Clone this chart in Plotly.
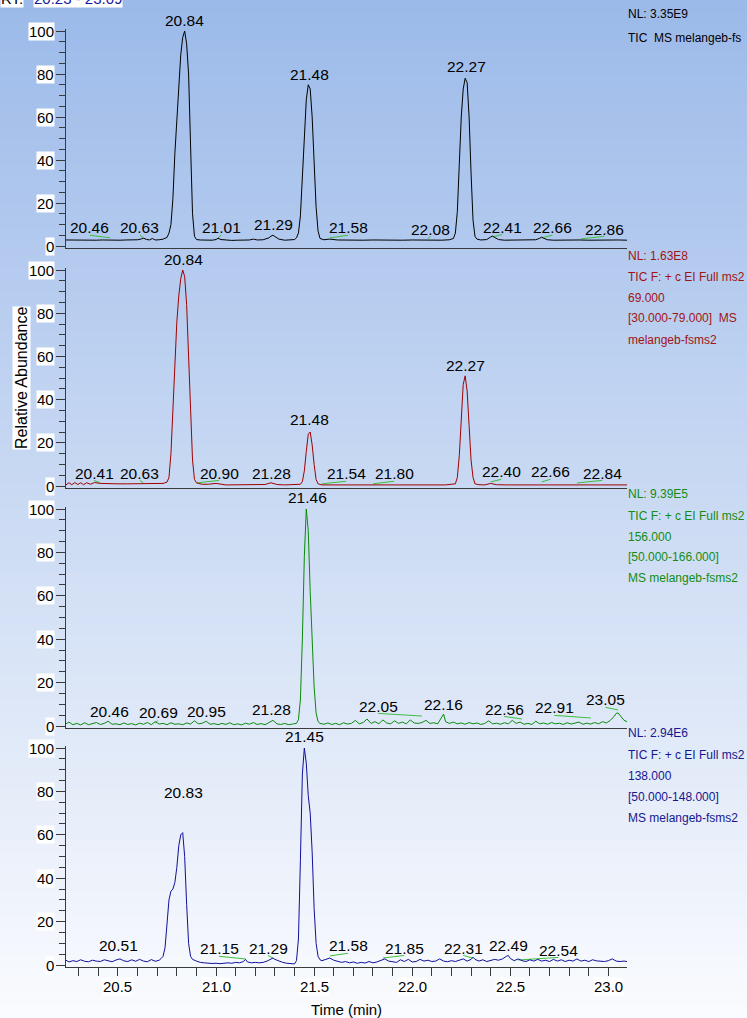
import plotly.graph_objects as go

W, H = 747, 1018
FONT = "Liberation Sans, Arial, Helvetica, sans-serif"

# ---------------- data ----------------
tic_time = [20.235, 20.27, 20.30, 20.33, 20.36, 20.39, 20.42, 20.45, 20.48, 20.51,
            20.54, 20.57, 20.60, 20.62, 20.63, 20.645, 20.66, 20.675, 20.69, 20.71,
            20.73, 20.75, 20.76, 20.77, 20.78, 20.79, 20.80, 20.81, 20.82, 20.83,
            20.84, 20.85, 20.86, 20.87, 20.88, 20.89, 20.90, 20.92, 20.95, 20.98,
            21.00, 21.01, 21.025, 21.05, 21.08, 21.11, 21.14, 21.17, 21.19, 21.21,
            21.24, 21.27, 21.28, 21.29, 21.30, 21.32, 21.35, 21.38, 21.40, 21.41,
            21.42, 21.43, 21.44, 21.45, 21.46, 21.47, 21.48, 21.49, 21.50, 21.51,
            21.52, 21.53, 21.55, 21.58, 21.62, 21.66, 21.70, 21.75, 21.80, 21.85,
            21.90, 21.95, 22.00, 22.05, 22.10, 22.15, 22.19, 22.21, 22.22, 22.23,
            22.24, 22.25, 22.26, 22.27, 22.28, 22.29, 22.30, 22.31, 22.32, 22.33,
            22.35, 22.38, 22.40, 22.41, 22.42, 22.44, 22.47, 22.51, 22.55, 22.59,
            22.63, 22.65, 22.66, 22.67, 22.69, 22.72, 22.76, 22.80, 22.85, 22.90,
            22.95, 23.00, 23.05, 23.095]
tic_abund = [2.8, 2.7, 2.8, 2.6, 2.8, 2.7, 2.8, 2.7, 2.8, 2.7,
             2.8, 2.7, 2.9, 3.3, 3.6, 3.1, 2.8, 3.5, 2.8, 2.9,
             3.2, 4.0, 6.0, 10.0, 22.0, 43.0, 60.0, 77.0, 89.0, 97.0,
             100.0, 94.0, 80.0, 47.0, 15.0, 4.5, 3.0, 2.8, 2.6, 2.7,
             3.0, 3.6, 3.0, 2.7, 2.6, 2.7, 2.6, 2.8, 3.2, 2.8,
             2.9, 3.8, 4.6, 5.0, 4.4, 3.2, 2.7, 2.8, 3.0, 3.8,
             6.0, 14.0, 32.0, 52.0, 68.0, 75.0, 73.0, 60.0, 38.0, 18.0,
             7.0, 3.5, 2.9, 3.2, 2.8, 2.7, 2.8, 2.7, 2.8, 2.7,
             2.8, 2.7, 2.8, 2.7, 2.8, 2.7, 2.9, 3.5, 6.0, 16.0,
             38.0, 60.0, 73.0, 78.0, 76.0, 60.0, 34.0, 12.0, 4.5, 3.2,
             2.8, 3.0, 4.2, 4.6, 4.0, 3.0, 2.7, 2.8, 2.7, 2.8,
             2.9, 3.6, 4.1, 3.6, 2.9, 2.7, 2.8, 2.7, 2.8, 2.7,
             2.8, 2.7, 2.8, 2.7]

m69_time = [20.235, 20.25, 20.265, 20.28, 20.295, 20.31, 20.325, 20.34, 20.36, 20.38,
            20.41, 20.45, 20.50, 20.55, 20.60, 20.63, 20.66, 20.70, 20.73, 20.75,
            20.76, 20.77, 20.78, 20.79, 20.80, 20.81, 20.82, 20.83, 20.84, 20.85,
            20.86, 20.87, 20.88, 20.89, 20.90, 20.91, 20.93, 20.96, 21.00, 21.05,
            21.10, 21.15, 21.20, 21.25, 21.28, 21.31, 21.35, 21.40, 21.43, 21.44,
            21.45, 21.46, 21.47, 21.48, 21.49, 21.50, 21.51, 21.52, 21.54, 21.58,
            21.65, 21.72, 21.80, 21.88, 21.95, 22.02, 22.10, 22.17, 22.22, 22.23,
            22.24, 22.25, 22.26, 22.27, 22.28, 22.29, 22.30, 22.31, 22.32, 22.34,
            22.37, 22.40, 22.43, 22.48, 22.55, 22.62, 22.66, 22.70, 22.78, 22.84,
            22.92, 23.00, 23.05, 23.095]
m69_abund = [0.5, 1.5, 0.6, 1.6, 0.7, 1.5, 0.6, 1.5, 0.8, 1.6,
             1.2, 1.0, 1.0, 1.0, 1.0, 1.1, 1.0, 1.0, 1.2, 1.8,
             4.0, 15.0, 38.0, 60.0, 76.0, 88.0, 96.0, 100.0, 97.0, 84.0,
             62.0, 35.0, 12.0, 3.0, 1.5, 1.2, 0.8, 0.8, 1.2, 0.5,
             0.5, 0.5, 0.5, 0.7, 1.5, 0.7, 0.5, 0.5, 0.8, 2.0,
             7.0, 16.0, 24.0, 25.0, 19.0, 10.0, 3.0, 1.0, 0.5, 0.5,
             0.5, 0.5, 0.5, 0.5, 0.5, 0.5, 0.5, 0.5, 1.0, 4.0,
             14.0, 32.0, 47.0, 51.0, 44.0, 28.0, 12.0, 4.0, 1.0, 0.6,
             0.5, 1.2, 0.6, 0.5, 0.5, 0.5, 0.8, 0.5, 0.5, 0.6,
             0.5, 0.5, 0.5, 0.5]

m156_time = [20.235, 20.25, 20.27, 20.29, 20.31, 20.33, 20.35, 20.37, 20.39, 20.41,
             20.43, 20.45, 20.47, 20.49, 20.51, 20.53, 20.55, 20.57, 20.59, 20.61,
             20.63, 20.65, 20.67, 20.69, 20.71, 20.73, 20.75, 20.77, 20.79, 20.81,
             20.83, 20.85, 20.87, 20.89, 20.91, 20.93, 20.95, 20.97, 20.99, 21.01,
             21.03, 21.05, 21.07, 21.09, 21.11, 21.13, 21.15, 21.17, 21.19, 21.21,
             21.23, 21.25, 21.27, 21.29, 21.31, 21.33, 21.35, 21.37, 21.39, 21.41,
             21.42, 21.43, 21.44, 21.45, 21.46, 21.47, 21.48, 21.49, 21.50, 21.51,
             21.52, 21.53, 21.55, 21.57, 21.59, 21.61, 21.63, 21.65, 21.67, 21.69,
             21.71, 21.73, 21.75, 21.77, 21.79, 21.81, 21.83, 21.85, 21.87, 21.89,
             21.91, 21.93, 21.95, 21.97, 21.99, 22.01, 22.03, 22.05, 22.07, 22.09,
             22.11, 22.13, 22.15, 22.16, 22.17, 22.19, 22.21, 22.23, 22.25, 22.27,
             22.29, 22.31, 22.33, 22.35, 22.37, 22.39, 22.41, 22.43, 22.45, 22.47,
             22.49, 22.51, 22.53, 22.55, 22.57, 22.59, 22.61, 22.63, 22.65, 22.67,
             22.69, 22.71, 22.73, 22.75, 22.77, 22.79, 22.81, 22.83, 22.85, 22.87,
             22.89, 22.91, 22.93, 22.95, 22.97, 22.99, 23.01, 23.03, 23.04, 23.05,
             23.06, 23.07, 23.08, 23.095]
m156_abund = [1.0, 1.8, 0.6, 1.2, 0.5, 1.5, 0.6, 1.0, 1.6, 0.7,
              1.2, 2.2, 0.8, 1.0, 0.6, 1.4, 0.7, 1.1, 0.5, 1.3,
              0.8, 1.6, 0.6, 2.0, 0.9, 1.2, 0.6, 1.5, 0.8, 1.0,
              0.6, 1.4, 0.9, 2.4, 1.0, 1.3, 2.2, 0.8, 1.1, 0.6,
              1.2, 0.7, 1.5, 0.6, 1.0, 0.5, 1.3, 0.8, 1.6, 0.7,
              1.1, 0.6, 1.8, 2.6, 1.0, 0.7, 1.2, 0.6, 0.9, 1.2,
              3.0, 12.0, 40.0, 78.0, 100.0, 90.0, 62.0, 38.0, 18.0, 6.0,
              2.0, 1.2, 0.8, 1.4, 0.7, 1.2, 0.6, 1.5, 0.9, 1.2,
              2.6, 1.0, 1.6, 3.2, 1.2, 2.0, 1.0, 2.8, 1.4, 1.0,
              2.4, 1.2, 1.8, 1.0, 2.8, 1.4, 1.2, 1.6, 2.6, 1.2,
              1.5, 1.0, 3.8, 5.5, 2.0, 1.2, 1.8, 1.0, 1.4, 0.8,
              1.6, 1.0, 1.4, 0.7, 1.2, 2.4, 1.0, 1.3, 0.8, 1.5,
              1.0, 2.6, 1.2, 1.8, 0.8, 1.2, 0.7, 2.2, 1.0, 1.4,
              0.8, 1.6, 1.0, 1.3, 0.7, 1.5, 0.9, 1.2, 1.8, 0.8,
              1.3, 0.9, 1.6, 1.0, 2.0, 1.4, 2.6, 4.5, 5.8, 6.0,
              4.8, 3.5, 2.6, 2.0]

m138_time = [20.235, 20.25, 20.27, 20.29, 20.31, 20.33, 20.35, 20.37, 20.39, 20.41,
             20.43, 20.45, 20.47, 20.49, 20.51, 20.53, 20.55, 20.57, 20.59, 20.61,
             20.63, 20.65, 20.67, 20.69, 20.71, 20.72, 20.73, 20.74, 20.75, 20.76,
             20.77, 20.78, 20.79, 20.80, 20.81, 20.82, 20.83, 20.84, 20.85, 20.86,
             20.87, 20.88, 20.90, 20.92, 20.94, 20.96, 20.98, 21.00, 21.02, 21.04,
             21.06, 21.08, 21.10, 21.12, 21.14, 21.15, 21.16, 21.18, 21.20, 21.22,
             21.24, 21.26, 21.28, 21.29, 21.30, 21.32, 21.34, 21.36, 21.38, 21.40,
             21.41, 21.42, 21.43, 21.44, 21.45, 21.46, 21.47, 21.48, 21.49, 21.50,
             21.51, 21.52, 21.53, 21.54, 21.56, 21.58, 21.60, 21.62, 21.64, 21.66,
             21.68, 21.70, 21.72, 21.74, 21.76, 21.78, 21.80, 21.82, 21.84, 21.86,
             21.88, 21.90, 21.92, 21.94, 21.96, 21.98, 22.00, 22.02, 22.04, 22.06,
             22.08, 22.10, 22.12, 22.14, 22.16, 22.18, 22.20, 22.22, 22.24, 22.26,
             22.28, 22.30, 22.31, 22.32, 22.34, 22.36, 22.38, 22.40, 22.42, 22.44,
             22.46, 22.48, 22.49, 22.50, 22.52, 22.54, 22.56, 22.58, 22.60, 22.62,
             22.64, 22.66, 22.68, 22.70, 22.72, 22.74, 22.76, 22.78, 22.80, 22.82,
             22.84, 22.86, 22.88, 22.90, 22.92, 22.94, 22.96, 22.98, 23.00, 23.02,
             23.04, 23.06, 23.08, 23.095]
m138_abund = [2.2, 1.4, 2.0, 1.6, 2.4, 1.7, 1.5, 2.2, 1.8, 1.6,
              2.4, 1.8, 1.5, 2.3, 2.8, 1.9, 1.6, 2.4, 1.7, 2.6,
              1.8, 1.5, 2.5, 1.7, 2.2, 3.0, 4.0, 8.0, 18.0, 30.0,
              34.0, 35.0, 38.0, 45.0, 55.0, 60.0, 61.0, 50.0, 28.0, 10.0,
              4.0, 2.6, 1.8, 1.2, 1.0, 0.8, 0.7, 0.8, 0.6, 0.8,
              1.0, 0.8, 1.2, 1.0, 1.6, 2.6, 1.4, 1.0, 1.2, 1.0,
              1.2, 1.8, 3.0, 3.2, 2.6, 1.8, 1.2, 0.8, 0.5, 0.5,
              2.0, 12.0, 48.0, 88.0, 100.0, 93.0, 78.0, 70.0, 52.0, 26.0,
              10.0, 4.0, 2.4, 2.0, 2.6, 3.2, 2.2, 1.6, 1.2, 1.6,
              1.0, 1.4, 0.8, 1.2, 0.9, 1.6, 1.0, 1.4, 2.2, 2.8,
              1.8, 1.4, 1.2, 2.4, 1.6, 2.6, 1.4, 1.6, 2.6, 1.8,
              2.2, 1.6, 1.8, 2.8, 1.8, 1.5, 2.0, 1.6, 2.2, 2.8,
              1.8, 2.6, 3.6, 2.6, 1.8, 2.4, 1.6, 2.0, 2.6, 2.2,
              2.8, 4.0, 4.4, 3.0, 2.0, 2.8, 2.0, 1.6, 2.4, 1.8,
              2.6, 1.8, 2.2, 1.6, 2.6, 1.8, 2.4, 1.6, 2.2, 1.8,
              2.8, 1.8, 2.2, 1.6, 2.4, 1.9, 1.8, 1.6, 2.0, 2.8,
              1.8, 1.6, 1.8, 1.6]

# peak labels: text (retention time), label centre x (min), label centre y (%)
tic_labels = ["20.84", "21.48", "22.27", "20.46", "20.63", "21.01", "21.29", "21.58", "22.08", "22.41", "22.66", "22.86"]
tic_lx = [20.837, 21.474, 22.276, 20.357, 20.612, 21.026, 21.291, 21.673, 22.092, 22.459, 22.714, 22.980]
tic_ly = [105.1, 80.0, 83.7, 8.4, 8.4, 8.4, 9.8, 8.4, 7.9, 8.8, 8.4, 7.9]

m69_labels = ["20.84", "21.48", "22.27", "20.41", "20.63", "20.90", "21.28", "21.54", "21.80", "22.40", "22.66", "22.84"]
m69_lx = [20.832, 21.474, 22.270, 20.378, 20.612, 21.015, 21.281, 21.663, 21.908, 22.454, 22.704, 22.969]
m69_ly = [105.0, 30.6, 56.0, 6.0, 6.0, 6.0, 6.0, 5.6, 5.6, 6.5, 6.5, 6.0]

m156_labels = ["21.46", "20.46", "20.69", "20.95", "21.28", "22.05", "22.16", "22.56", "22.91", "23.05"]
m156_lx = [21.464, 20.459, 20.704, 20.949, 21.281, 21.827, 22.158, 22.469, 22.724, 22.985]
m156_ly = [105.5, 6.9, 6.0, 6.9, 7.4, 9.2, 10.1, 7.8, 8.3, 12.0]

m138_labels = ["21.45", "20.83", "20.51", "21.15", "21.29", "21.58", "21.85", "22.31", "22.49", "22.54"]
m138_lx = [21.449, 20.832, 20.505, 21.015, 21.265, 21.673, 21.959, 22.260, 22.490, 22.745]
m138_ly = [105.5, 79.3, 8.8, 7.4, 7.8, 8.8, 7.8, 7.8, 8.8, 6.9]

tic_info = ["NL: 3.35E9", "TIC\u00a0 MS melangeb-fs"]
m69_info = ["NL: 1.63E8", "TIC F: + c EI Full ms2", "69.000", "[30.000-79.000]\u00a0 MS", "melangeb-fsms2"]
m156_info = ["NL: 9.39E5", "TIC F: + c EI Full ms2", "156.000", "[50.000-166.000]", "MS melangeb-fsms2"]
m138_info = ["NL: 2.94E6", "TIC F: + c EI Full ms2", "138.000", "[50.000-148.000]", "MS melangeb-fsms2"]

y_ticks = [0, 20, 40, 60, 80, 100]
x_ticks = [20.5, 21.0, 21.5, 22.0, 22.5, 23.0]
x_range = [20.235, 23.095]

# ---------------- layout helpers ----------------
def px_x(p):
    return p / W

def px_y(p):
    return 1 - p / H

panels = [
    dict(t=tic_time, v=tic_abund, color="#000000", info_color="#000000",
         lab=tic_labels, lx=tic_lx, ly=tic_ly, info=tic_info, zero=246, top=31, info_y=[14, 38]),
    dict(t=m69_time, v=m69_abund, color="#a00000", info_color="#a01414",
         lab=m69_labels, lx=m69_lx, ly=m69_ly, info=m69_info, zero=486, top=270, info_y=[256, 277, 298, 318, 340]),
    dict(t=m156_time, v=m156_abund, color="#0a8a0a", info_color="#138c13",
         lab=m156_labels, lx=m156_lx, ly=m156_ly, info=m156_info, zero=726, top=509, info_y=[494, 516, 537, 557, 578]),
    dict(t=m138_time, v=m138_abund, color="#10109a", info_color="#161690",
         lab=m138_labels, lx=m138_lx, ly=m138_ly, info=m138_info, zero=965, top=748, info_y=[733, 755, 776, 797, 818]),
]

fig = go.Figure()
annotations = []
shapes = []

# gradient background
N = 80
c0 = (156, 186, 233)
c1 = (250, 251, 254)
for i in range(N):
    f = i / (N - 1)
    col = tuple(int(round(c0[k] + (c1[k] - c0[k]) * f)) for k in range(3))
    shapes.append(dict(type="rect", xref="paper", yref="paper", x0=0, x1=1,
                       y0=1 - (i + 1) / N - 0.002, y1=1 - i / N,
                       fillcolor="rgb(%d,%d,%d)" % col, line=dict(width=0), layer="below"))

layout = dict(width=W, height=H, margin=dict(l=0, r=0, t=0, b=0),
              paper_bgcolor="white", plot_bgcolor="rgba(0,0,0,0)", showlegend=False,
              font=dict(family=FONT, size=14, color="black"))

AX = "#3a3a3a"
x0d, x1d = px_x(66), px_x(627)
for i, p in enumerate(panels):
    n = i + 1
    xa = "xaxis" if n == 1 else "xaxis%d" % n
    ya = "yaxis" if n == 1 else "yaxis%d" % n
    xr = "x" if n == 1 else "x%d" % n
    yr = "y" if n == 1 else "y%d" % n
    scale = (p["zero"] - p["top"]) / 100.0  # px per unit
    lo, hi = -1.0, 101.0
    y0d = px_y(p["zero"] - lo * scale)
    y1d = px_y(p["zero"] - hi * scale)

    def to_paper(v, y0d=y0d, y1d=y1d, lo=lo, hi=hi):
        return y0d + (v - lo) / (hi - lo) * (y1d - y0d)

    bottom = (n == 4)
    layout[xa] = dict(domain=[x0d, x1d], range=x_range, anchor=yr,
                      showline=True, linecolor=AX, linewidth=1,
                      showgrid=False, zeroline=False, showticklabels=False,
                      ticks="outside" if bottom else "", ticklen=8, tickcolor=AX,
                      tickvals=x_ticks if bottom else [],
                      minor=dict(dtick=0.1, tick0=20.0, ticks="outside", ticklen=8,
                                 tickcolor=AX) if bottom else dict(ticks=""))
    layout[ya] = dict(domain=[y0d, y1d], range=[lo, hi], anchor=xr,
                      showline=True, linecolor=AX, linewidth=1,
                      showgrid=False, zeroline=False, showticklabels=False,
                      ticks="outside", ticklen=9, tickcolor=AX, tickvals=y_ticks,
                      minor=dict(dtick=5, tick0=0, ticks="outside", ticklen=6, tickcolor=AX))

    # green connector lines from label to peak
    cx, cy = [], []
    for txt, lx, ly in zip(p["lab"], p["lx"], p["ly"]):
        rt = float(txt)
        if ly < 20 and abs(rt - lx) > 0.012:
            cx += [rt, lx, None]
            cy += [ly - 4.6, ly - 3.4, None]
    fig.add_trace(go.Scatter(x=cx, y=cy, mode="lines", xaxis=xr, yaxis=yr,
                             line=dict(color="#3cc03c", width=1), hoverinfo="skip"))
    fig.add_trace(go.Scatter(x=p["t"], y=p["v"], mode="lines", xaxis=xr, yaxis=yr,
                             line=dict(color=p["color"], width=1), hoverinfo="skip"))
    for tv in y_ticks:
        annotations.append(dict(text=str(tv), xref="paper", yref=yr, x=px_x(55), y=tv,
                                xanchor="right", yanchor="middle", showarrow=False,
                                bgcolor="white", borderpad=0, font=dict(size=15)))
    for txt, lx, ly in zip(p["lab"], p["lx"], p["ly"]):
        annotations.append(dict(text=txt, xref=xr, yref="paper", x=lx, y=to_paper(ly),
                                xanchor="center", yanchor="middle", showarrow=False,
                                font=dict(size=15.5)))
    for txt, yy in zip(p["info"], p["info_y"]):
        annotations.append(dict(text=txt, xref="paper", yref="paper", x=px_x(626), y=px_y(yy),
                                xanchor="left", yanchor="middle", showarrow=False,
                                font=dict(size=12, color=p["info_color"])))

for tv in x_ticks:
    annotations.append(dict(text="%.1f" % tv, xref="x4", yref="paper", x=tv, y=px_y(986),
                            xanchor="center", yanchor="middle", showarrow=False,
                            bgcolor="white", borderpad=0, font=dict(size=15)))

annotations.append(dict(text="Time (min)", xref="paper", yref="paper", x=px_x(346), y=px_y(1009),
                        xanchor="center", yanchor="middle", showarrow=False, font=dict(size=15)))
annotations.append(dict(text="Relative Abundance", xref="paper", yref="paper", x=px_x(21), y=px_y(378),
                        xanchor="center", yanchor="middle", showarrow=False, textangle=-90,
                        bgcolor="white", borderpad=0, font=dict(size=16)))
annotations.append(dict(text="RT:", xref="paper", yref="paper", x=px_x(0), y=px_y(-1),
                        xanchor="left", yanchor="middle", showarrow=False,
                        bgcolor="white", borderpad=0, font=dict(size=15)))
annotations.append(dict(text="20.23 - 23.09", xref="paper", yref="paper", x=px_x(33), y=px_y(-1),
                        xanchor="left", yanchor="middle", showarrow=False,
                        bgcolor="white", borderpad=0, font=dict(size=15, color="#1a1aa0")))

layout["annotations"] = annotations
layout["shapes"] = shapes
fig.update_layout(**layout)
fig.write_html("out.html", config={"displayModeBar": False},
               post_script="document.body.style.margin='0';document.body.style.overflow='hidden';")
